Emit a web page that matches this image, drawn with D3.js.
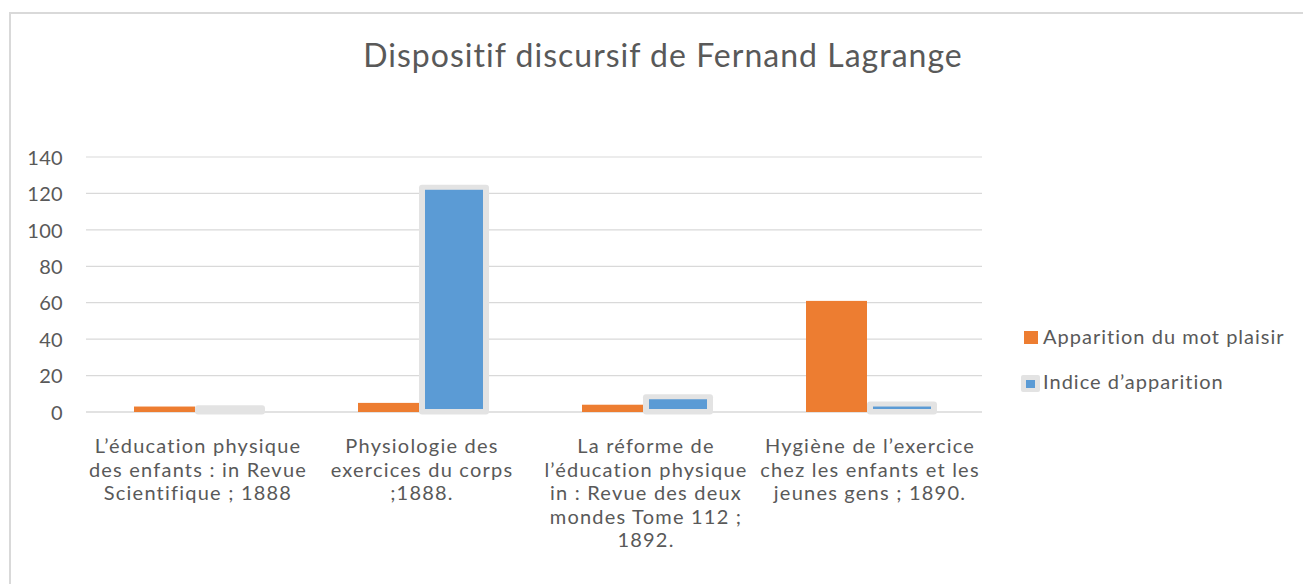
<!DOCTYPE html>
<html><head><meta charset="utf-8">
<script src="https://cdn.jsdelivr.net/npm/d3@7"></script>
<style>
body{margin:0;background:#fff;}
text{font-family:Lato,"Open Sans",sans-serif;fill:#595959;}
</style></head>
<body>
<svg id="chart" width="1303" height="584"></svg>
<script>
const categories = [
  ["L’éducation physique","des enfants : in Revue","Scientifique ; 1888"],
  ["Physiologie des","exercices du corps",";1888."],
  ["La réforme de","l’éducation physique","in : Revue des deux","mondes Tome 112 ;","1892."],
  ["Hygiène de l’exercice","chez les enfants et les","jeunes gens ; 1890."]
];
const seriesNames = ["Apparition du mot plaisir","Indice d’apparition"];
const plaisir = [3, 5, 4, 61];
const indice = [1, 122, 7, 3];
const yTicks = [0,20,40,60,80,100,120,140];
const title = "Dispositif discursif de Fernand Lagrange";

const svg = d3.select("#chart");
svg.append("rect").attr("x",10).attr("y",13).attr("width",1400).attr("height",700)
  .attr("fill","#fff").attr("stroke","#d9d9d9").attr("stroke-width",2);

// letter-spacing so that a sample string at a given size reaches a target width
function fitSpacing(sample, target, size){
  const t = svg.append("text").attr("font-size",size+"px").text(sample);
  const w = t.node().getComputedTextLength();
  t.remove();
  return Math.max(0,(target-w)/sample.length);
}
const labelSize = 20, titleSize = 32, legendSize = 20, tickSize = 20;
const labelLS = fitSpacing("L’éducation physique", 207, labelSize);
const titleLS = fitSpacing(title, 600, titleSize);
const legendLS = fitSpacing(seriesNames[0], 242, legendSize);

const m = {left:86, right:982, top:157, bottom:412};
const x = d3.scaleBand().domain(d3.range(categories.length)).range([m.left,m.right]);
const y = d3.scaleLinear().domain([0,140]).range([m.bottom,m.top]);

// grid
svg.append("g").selectAll("line").data(yTicks).join("line")
  .attr("x1",m.left).attr("x2",m.right).attr("y1",d=>y(d)).attr("y2",d=>y(d))
  .attr("stroke","#d9d9d9").attr("stroke-width",d=>d===0?1.5:1.2);

// y labels
const yAxis = d3.axisLeft(y).tickValues(yTicks).tickSize(0).tickPadding(0);
const ya = svg.append("g").attr("transform",`translate(63,0)`).call(yAxis);
ya.select(".domain").remove();
ya.selectAll("text").attr("font-size",tickSize+"px").attr("fill","#595959").attr("dy","0.36em")
  .style("font-family","Lato").style("letter-spacing","0.3px");

const barW = 61;
const xo = i => x(i) + x.bandwidth()/2 - 64;

// orange bars
svg.append("g").selectAll("rect").data(plaisir).join("rect")
  .attr("x",(d,i)=>xo(i)).attr("width",barW)
  .attr("y",d=>y(d)).attr("height",d=>y(0)-y(d)).attr("fill","#ed7d31");

// blue bars with glow
const gB = svg.append("g");
gB.selectAll("rect.glow").data(indice).join("rect").attr("class","glow")
  .attr("x",(d,i)=>xo(i)+barW).attr("width",70)
  .attr("y",d=>y(d)-5).attr("height",d=>y(0)+2.5-(y(d)-5)).attr("rx",3)
  .attr("fill","#e3e3e3");
gB.selectAll("rect.bar").data(indice).join("rect").attr("class","bar")
  .attr("x",(d,i)=>xo(i)+barW+6).attr("width",58)
  .attr("y",d=>y(d)).attr("height",d=>Math.max(0,y(0)-3-y(d)))
  .attr("fill","#5b9bd5");

// category labels
const cl = svg.append("g").selectAll("text").data(categories).join("text")
  .attr("x",(d,i)=>x(i)+x.bandwidth()/2).attr("y",453)
  .attr("text-anchor","middle").attr("font-size",labelSize+"px")
  .style("letter-spacing",labelLS+"px");
cl.selectAll("tspan").data(d=>d).join("tspan")
  .attr("x",function(){return this.parentNode.getAttribute("x");})
  .attr("dy",(d,i)=>i===0?0:23.5).text(d=>d);

// title
svg.append("text").attr("x",663).attr("y",67).attr("text-anchor","middle")
  .attr("font-size",titleSize+"px").style("letter-spacing",titleLS+"px").text(title);

// legend
const lg = svg.append("g");
lg.append("rect").attr("x",1024).attr("y",331).attr("width",14).attr("height",13).attr("fill","#ed7d31");
lg.append("rect").attr("x",1021).attr("y",375).attr("width",19).attr("height",17).attr("rx",2).attr("fill","#e3e3e3");
lg.append("rect").attr("x",1026).attr("y",380).attr("width",9).attr("height",8).attr("fill","#5b9bd5");
lg.selectAll("text").data(seriesNames).join("text")
  .attr("x",1043).attr("y",(d,i)=>344+i*45).attr("font-size",legendSize+"px")
  .style("letter-spacing",legendLS+"px").text(d=>d);
</script>
</body></html>
